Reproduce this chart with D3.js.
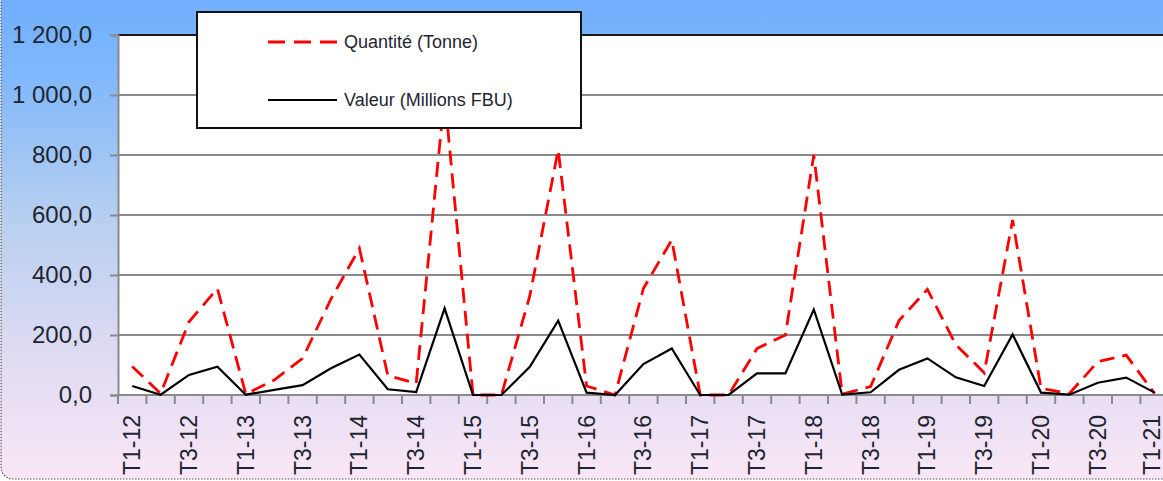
<!DOCTYPE html>
<html>
<head>
<meta charset="utf-8">
<script src="https://cdn.jsdelivr.net/npm/d3@7"></script>
<style>
  body { margin: 0; overflow: hidden; background: #fff; }
  text { font-family: "Liberation Sans", Arial, sans-serif; fill: #1e2530; }
</style>
</head>
<body>
<div id="chart"></div>
<script>
// quarters, one point each
var quarters = [
  "T1-12","T2-12","T3-12","T4-12",
  "T1-13","T2-13","T3-13","T4-13",
  "T1-14","T2-14","T3-14","T4-14",
  "T1-15","T2-15","T3-15","T4-15",
  "T1-16","T2-16","T3-16","T4-16",
  "T1-17","T2-17","T3-17","T4-17",
  "T1-18","T2-18","T3-18","T4-18",
  "T1-19","T2-19","T3-19","T4-19",
  "T1-20","T2-20","T3-20","T4-20",
  "T1-21"
];

// Quantité (Tonne)
var quantite = [
  95, 5, 244, 355,
  3, 50, 122, 320,
  489, 65, 39, 1000,
  0, 0, 330, 817,
  30, 0, 355, 517,
  0, 0, 155, 200,
  800, 3, 28, 248,
  352, 168, 74, 583,
  22, 5, 111, 133,
  5
];

// Valeur (Millions FBU)
var valeur = [
  30, 1, 67, 94,
  1, 17, 33, 89,
  135, 19, 10, 289,
  0, 0, 94, 248,
  8, 0, 103, 155,
  0, 0, 72, 72,
  285, 1, 9, 84,
  122, 59, 30, 202,
  8, 1, 41, 58,
  8
];

var yTicks = [0, 200, 400, 600, 800, 1000, 1200];
var tickLabels = quarters.filter(function(d, i) { return i % 2 === 0; });
var seriesNames = ["Quantité (Tonne)", "Valeur (Millions FBU)"];

var W = 1163, H = 481;
var plot = {left: 118, right: 118 + 37 * 28.4, top: 35, bottom: 395};

var svg = d3.select("#chart").append("svg")
    .attr("width", W)
    .attr("height", H);

// background gradient of the chart area
var defs = svg.append("defs");
var grad = defs.append("linearGradient")
    .attr("id", "bg")
    .attr("x1", 0).attr("y1", 0).attr("x2", 0).attr("y2", 1);
grad.append("stop").attr("offset", "0%").attr("stop-color", "#6aacff");
grad.append("stop").attr("offset", "20%").attr("stop-color", "#7fb7fb");
grad.append("stop").attr("offset", "50%").attr("stop-color", "#b9d0f0");
grad.append("stop").attr("offset", "78%").attr("stop-color", "#e2dcf3");
grad.append("stop").attr("offset", "100%").attr("stop-color", "#f9e7f6");

svg.append("rect")
    .attr("x", 1).attr("y", -30)
    .attr("width", W + 40).attr("height", H + 28)
    .attr("rx", 12)
    .attr("fill", "url(#bg)")
    .attr("stroke", "#555")
    .attr("stroke-width", 1.2)
    .attr("stroke-dasharray", "1.5,1.5");

// scales
var x = d3.scaleBand()
    .domain(quarters)
    .range([plot.left, plot.right]);

var y = d3.scaleLinear()
    .domain([0, 1200])
    .range([plot.bottom, plot.top]);

// plot area
svg.append("rect")
    .attr("x", plot.left).attr("y", plot.top)
    .attr("width", plot.right - plot.left)
    .attr("height", plot.bottom - plot.top)
    .attr("fill", "#ffffff");

// gridlines
svg.append("g")
    .selectAll("line")
    .data(yTicks)
    .join("line")
    .attr("x1", plot.left).attr("x2", plot.right)
    .attr("y1", function(d) { return y(d); })
    .attr("y2", function(d) { return y(d); })
    .attr("stroke", "#8a8a8a")
    .attr("stroke-width", 2);

// top border of the plot
svg.append("line")
    .attr("x1", plot.left).attr("x2", plot.right)
    .attr("y1", plot.top).attr("y2", plot.top)
    .attr("stroke", "#1a1a1a")
    .attr("stroke-width", 2);

// Y axis
var yAxis = svg.append("g")
    .attr("transform", "translate(" + plot.left + ",0)")
    .call(d3.axisLeft(y)
        .tickValues(yTicks)
        .tickSize(8)
        .tickPadding(18)
        .tickFormat(function(d) {
            return d3.format(",.1f")(d).replace(".", "#").replace(/,/g, " ").replace("#", ",");
        }));
yAxis.select(".domain").attr("stroke", "#8a8a8a").attr("stroke-width", 2);
yAxis.selectAll(".tick line").attr("stroke", "#8a8a8a").attr("stroke-width", 2);
yAxis.selectAll(".tick text")
    .attr("font-size", 24)
    .attr("font-family", "Liberation Sans, Arial, sans-serif")
    .attr("fill", "#1e2530");

// X axis: ticks at band boundaries, labels every other quarter
var xAxis = svg.append("g")
    .attr("transform", "translate(0," + plot.bottom + ")");
xAxis.append("line")
    .attr("x1", plot.left).attr("x2", plot.right)
    .attr("stroke", "#8a8a8a")
    .attr("stroke-width", 2);
xAxis.selectAll(".xtick")
    .data(quarters.concat(["end"]))
    .join("line")
    .attr("class", "xtick")
    .attr("x1", function(d, i) { return i < quarters.length ? x(d) : plot.right; })
    .attr("x2", function(d, i) { return i < quarters.length ? x(d) : plot.right; })
    .attr("y1", 0).attr("y2", 9)
    .attr("stroke", "#8a8a8a")
    .attr("stroke-width", 2);
xAxis.selectAll(".xlabel")
    .data(tickLabels)
    .join("text")
    .attr("class", "xlabel")
    .attr("transform", function(d) {
        // keep the last label inside the window
        var cx = Math.min(x(d) + x.bandwidth() / 2, W - 11);
        return "translate(" + cx + ",20) rotate(-90)";
    })
    .attr("text-anchor", "end")
    .attr("dy", "0.35em")
    .attr("font-size", 23)
    .text(function(d) { return d; });

// lines
var line = d3.line()
    .x(function(d, i) { return x(quarters[i]) + x.bandwidth() / 2; })
    .y(function(d) { return y(d); });

svg.append("path")
    .datum(quantite)
    .attr("fill", "none")
    .attr("stroke", "#ff0000")
    .attr("stroke-width", 2.8)
    .attr("stroke-dasharray", "15,8")
    .attr("d", line);

svg.append("path")
    .datum(valeur)
    .attr("fill", "none")
    .attr("stroke", "#000000")
    .attr("stroke-width", 2.2)
    .attr("stroke-linejoin", "miter")
    .attr("d", line);

// legend
var legend = svg.append("g");
legend.append("rect")
    .attr("x", 197).attr("y", 12)
    .attr("width", 384).attr("height", 116)
    .attr("fill", "#ffffff")
    .attr("stroke", "#111")
    .attr("stroke-width", 2);

var legendStyles = [
    {color: "#ff0000", dash: "17,9", width: 2.8, y: 42},
    {color: "#000000", dash: null, width: 2.2, y: 100}
];
seriesNames.forEach(function(name, i) {
    var s = legendStyles[i];
    legend.append("line")
        .attr("x1", 268).attr("x2", 337)
        .attr("y1", s.y).attr("y2", s.y)
        .attr("stroke", s.color)
        .attr("stroke-width", s.width)
        .attr("stroke-dasharray", s.dash);
    legend.append("text")
        .attr("x", 344).attr("y", s.y)
        .attr("dy", "0.35em")
        .attr("font-size", 18)
        .text(name);
});
</script>
</body>
</html>
